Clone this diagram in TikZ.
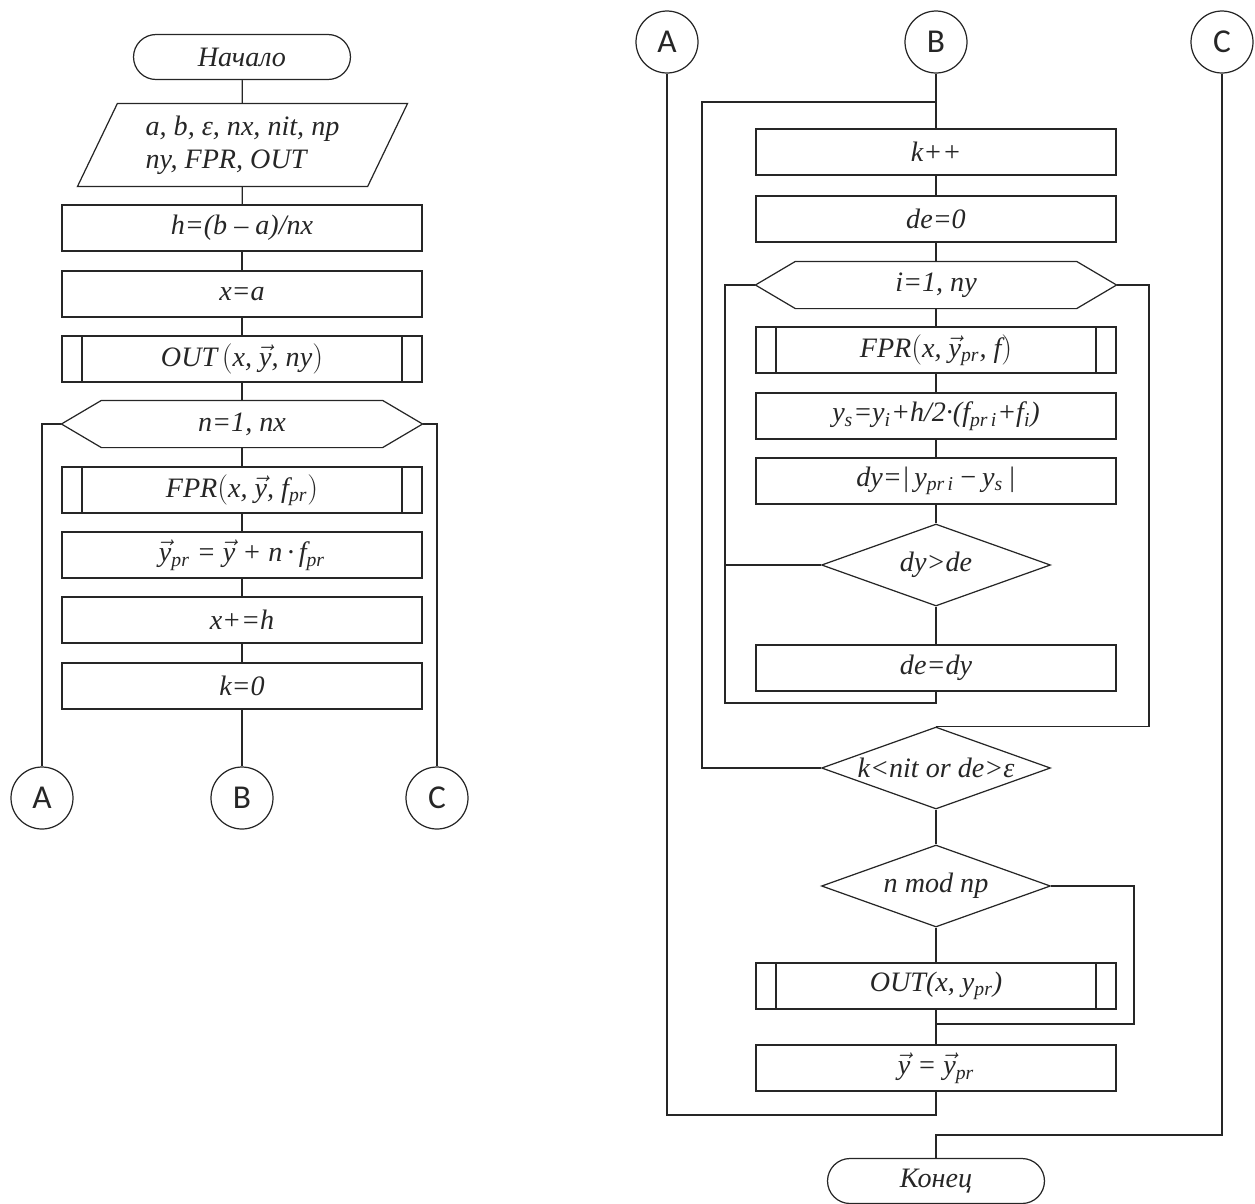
\documentclass[tikz,border=0pt]{standalone}
\usepackage{fontspec}
\setmainfont{Liberation Serif}
\newfontfamily\letfont{Carlito}
\usetikzlibrary{positioning, shapes.geometric}
\newcommand{\vy}{\ensuremath{\vec{\mbox{\itshape y}}}}

\begin{document}
\begin{tikzpicture}[
  x=0.02cm, y=-0.02cm,
  color=black!85, line width=0.7pt,
  txt/.style={font=\fontsize{16}{19}\selectfont\itshape},
  box/.style={rectangle, draw, txt, minimum width=7.2cm, minimum height=0.92cm, inner sep=1pt},
  subbox/.style={box, path picture={
      \draw ([xshift=0.4cm]path picture bounding box.north west) -- ([xshift=0.4cm]path picture bounding box.south west)
            ([xshift=-0.4cm]path picture bounding box.north east) -- ([xshift=-0.4cm]path picture bounding box.south east);}},
  term/.style={rectangle, draw, txt, rounded corners=0.45cm, minimum width=4.34cm, minimum height=0.9cm},
  loopbox/.style={rectangle, txt, minimum width=7.2cm, minimum height=0.92cm, inner sep=1pt},
  cond/.style={diamond, draw, txt, aspect=2.8, minimum width=4.58cm, minimum height=1.64cm, inner sep=-6pt},
  io/.style={rectangle, txt, minimum width=6.58cm, minimum height=1.64cm, align=left, inner sep=0pt},
  conn/.style={circle, draw, minimum size=1.24cm, inner sep=0pt, font=\fontsize{19}{22}\selectfont\letfont},
]
\useasboundingbox (0,0) rectangle (1255,1204);

% left part
\node[term] (start) at (242,57) {Начало};
\node[io] (inp) at (242.5,145) {a, b, ε, nx, nit, np\\ny, FPR, OUT};
\draw ([xshift=0.8cm]inp.north west) -- (inp.north east) -- ([xshift=-0.8cm]inp.south east) -- (inp.south west) -- cycle;
\node[box] (b1) at (242,228) {h=(b – a)/nx};
\node[box] (b2) at (242,294) {x=a};
\node[subbox] (b3) at (242,359) {OUT\,$\bigl($x, \vy, ny$\bigr)$};
\node[loopbox] (lp1) at (242,424) {n=1, nx};
\draw (lp1.west) -- ([xshift=0.8cm]lp1.north west) -- ([xshift=-0.8cm]lp1.north east) -- (lp1.east)
  -- ([xshift=-0.8cm]lp1.south east) -- ([xshift=0.8cm]lp1.south west) -- cycle;
\node[subbox] (b4) at (242,490) {FPR$\bigl($x, \vy, f\textsubscript{pr}$\bigr)$};
\node[box] (b5) at (242,555) {\vy\textsubscript{pr} = \vy{} + n\,·\,f\textsubscript{pr}};
\node[box] (b6) at (242,620) {x+=h};
\node[box] (b7) at (242,686) {k=0};
\node[conn] (cA1) at (42,798) {A};
\node[conn] (cB1) at (242,798) {B};
\node[conn] (cC1) at (437,798) {C};

\draw (start) -- (inp);
\draw (inp) -- (b1);
\draw (b1) -- (b2);
\draw (b2) -- (b3);
\draw (b3) -- (lp1);
\draw (lp1) -- (b4);
\draw (b4) -- (b5);
\draw (b5) -- (b6);
\draw (b6) -- (b7);
\draw (b7) -- (cB1);
\draw (lp1.west) -| (cA1);
\draw (lp1.east) -| (cC1);

% right part
\node[conn] (cA2) at (667,42) {A};
\node[conn] (cB2) at (936,42) {B};
\node[conn] (cC2) at (1222,42) {C};
\node[box] (r1) at (936,152) {k++};
\node[box] (r2) at (936,219) {de=0};
\node[loopbox] (lp2) at (936,285) {i=1, ny};
\draw (lp2.west) -- ([xshift=0.8cm]lp2.north west) -- ([xshift=-0.8cm]lp2.north east) -- (lp2.east)
  -- ([xshift=-0.8cm]lp2.south east) -- ([xshift=0.8cm]lp2.south west) -- cycle;
\node[subbox] (r3) at (936,350) {FPR$\bigl($x, \vy\textsubscript{pr}, f$\bigr)$};
\node[box] (r4) at (936,416) {y\textsubscript{s}=y\textsubscript{i}+h/2·(f\textsubscript{pr\,i}+f\textsubscript{i})};
\node[box] (r5) at (936,481) {dy=|\,y\textsubscript{pr\,i}\,−\,y\textsubscript{s}\,|};
\node[cond] (d1) at (936,565) {dy>de};
\node[box] (r6) at (936,668) {de=dy};
\node[cond] (d2) at (936,768) {k<nit or de>ε};
\node[cond] (d3) at (936,886) {n mod np};
\node[subbox] (r7) at (936,986) {OUT(x, y\textsubscript{pr})};
\node[box] (r8) at (936,1068) {\vy{} = \vy\textsubscript{pr}};
\node[term] (end) at (936,1181) {Конец};

\coordinate (klL) at (702,102);
\coordinate (lbL) at (725,703);
\coordinate (lbR) at (1149,285);
\coordinate (mdR) at (1134,1024);
\coordinate (aB) at (667,1115);
\coordinate (cJ) at (936,1135);

\draw (cB2) -- (r1);
\draw (r1) -- (r2);
\draw (r2) -- (lp2);
\draw (lp2) -- (r3);
\draw (r3) -- (r4);
\draw (r4) -- (r5);
\draw (r5) -- (d1);
\draw (d1) -- (r6);
\draw (r6) |- (lbL) |- (lp2.west);
\draw (d1.west) -- (d1.west -| lbL);
\draw (lp2.east) -- (lbR) |- (d2.north);
\draw (d2.west) -| (klL) -- (klL -| r1.north);
\draw (d2) -- (d3);
\draw (d3) -- (r7);
\draw (d3.east) -| (mdR) -- (mdR -| r7.south);
\draw (r7) -- (r8);
\draw (r8) |- (aB) -- (cA2);
\draw (cC2) |- (cJ) -- (end);
\end{tikzpicture}
\end{document}
